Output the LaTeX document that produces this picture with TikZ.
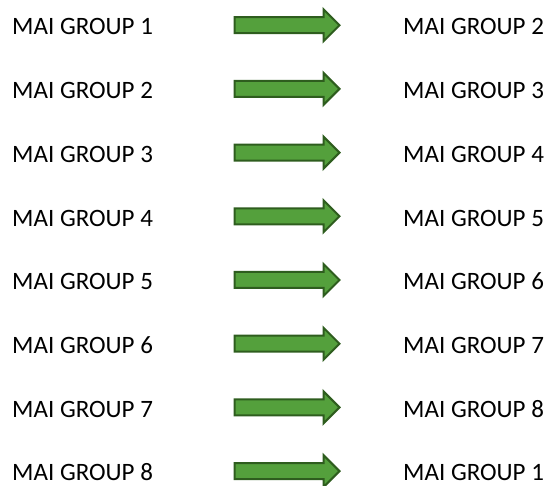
\documentclass[tikz,border=0pt]{standalone}
\usepackage{fontspec}
\setmainfont{Carlito}
\usetikzlibrary{shapes.arrows}
\definecolor{arrowfill}{HTML}{54A03C}
\definecolor{arrowline}{HTML}{2E5D1E}
\tikzset{
  group/.style={font=\fontsize{25}{30}\selectfont, inner sep=0pt},
  movearrow/.style={single arrow, draw=arrowline, fill=arrowfill, line width=2pt,
    minimum height=105pt, inner xsep=0pt, inner ysep=7pt,
    single arrow head extend=8pt, single arrow tip angle=90}
}
\begin{document}
\begin{tikzpicture}[x=1pt,y=-1pt]
  \useasboundingbox (0,0) rectangle (547,486);
  \foreach \i [evaluate=\i as \y using 25.2+63.7*(\i-1), evaluate={\j=int(mod(\i,8)+1);}] in {1,...,8} {
    \node[group, anchor=base west] (l\i) at (12,\y+9.8) {MAI GROUP \i};
    \node[group, anchor=base west] (r\i) at (403,\y+9.8) {MAI GROUP \j};
    \node[movearrow] (a\i) at (283,\y) {};
  }
\end{tikzpicture}
\end{document}
